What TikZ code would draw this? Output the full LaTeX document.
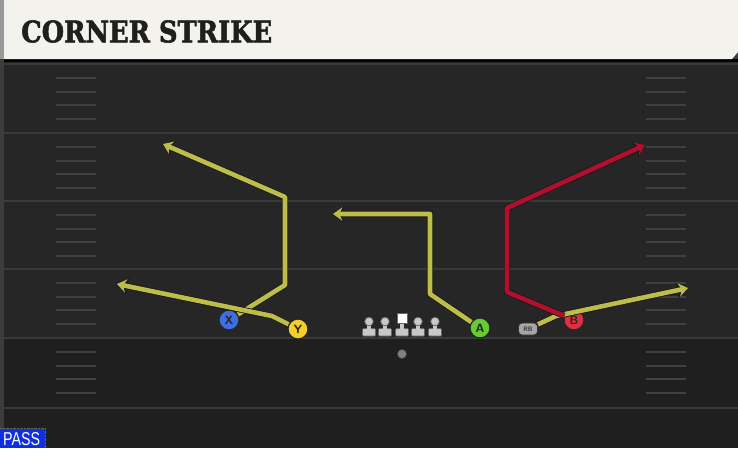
\documentclass[tikz,border=0pt]{standalone}
\usepackage{fontspec}
\usepackage{graphicx}
\newfontfamily\titlefont[FakeBold=2]{DejaVu Serif}
\newfontfamily\tagfont{Liberation Sans}
\usetikzlibrary{arrows.meta,positioning}

\definecolor{fieldbg}{HTML}{262626}
\definecolor{fieldlow}{HTML}{1F1F1F}
\definecolor{yardline}{HTML}{3A3A3A}
\definecolor{hashline}{HTML}{404040}
\definecolor{headbg}{HTML}{F4F2EC}
\definecolor{routeyel}{HTML}{BDBD4A}
\definecolor{routered}{HTML}{B0102E}
\definecolor{xblue}{HTML}{3D6FE0}
\definecolor{yyellow}{HTML}{F2CF2A}
\definecolor{agreen}{HTML}{66CC33}
\definecolor{bred}{HTML}{E0303F}
\definecolor{passblue}{HTML}{1030E0}
\definecolor{lineman}{HTML}{C8C8C8}

\tikzset{
	route/.style={
		line width=4.6pt,
		line join=round,
		-{Stealth[length=3pt 1.4, width=5pt 1.8, inset=1pt 0.5]},
		preaction={draw=black!90, line width=6.2pt}
	},
	player/.style={
		circle,
		draw=black!85,
		line width=1.2pt,
		minimum size=20pt,
		inner sep=0pt,
		text=black!85,
		font=\sffamily\bfseries\large
	}
}

\begin{document}
\begin{tikzpicture}[x=1pt, y=-1pt]
		\useasboundingbox (0,0) rectangle (738,448);
		
		% field
		\fill[fieldbg!90!white] (0,0) rectangle (738,448);
		\fill[fieldbg] (4,61) rectangle (738,338);
		\fill[fieldlow] (4,338) rectangle (738,448);
		
		\foreach \y in {64,133,201,269,338,408}
			\draw[yardline, line width=2.2pt] (4,\y) -- (738,\y);
		\foreach \y in {64,133,201,269,338}
			\foreach \k in {1,...,4} {
				\draw[hashline, line width=2pt] (56,\y+13.8*\k) -- (96,\y+13.8*\k);
				\draw[hashline, line width=2pt] (646,\y+13.8*\k) -- (686,\y+13.8*\k);
			}
		
		% header
		\fill[black!40] (0,0) rectangle (4,59);
		\fill[black] (4,59) rectangle (738,62);
		\fill[headbg] (4,0) -- (738,0) -- (738,52) -- (732,59) -- (4,59) -- cycle;
		\node (title) [anchor=west, inner sep=0pt, text=black!88] at (21,31.5)
			{\resizebox{251pt}{22pt}{\titlefont\bfseries CORNER STRIKE}};
		
		% line
		\foreach \x in {369,385,418,435} {
			\fill[lineman, draw=black!60, line width=0.7pt, rounded corners=1pt] (\x-6.5,328.5) rectangle (\x+6.5,336);
			\fill[lineman] (\x-2.2,322) rectangle (\x+2.2,330);
			\fill[lineman, draw=black!60, line width=0.7pt] (\x,321.5) circle (4.3);
		}
		\fill[lineman, draw=black!60, line width=0.7pt, rounded corners=1pt] (395.5,328.5) rectangle (408.5,336);
		\fill[lineman] (399.8,322) rectangle (404.2,330);
		\fill[white, draw=black!60, line width=0.7pt] (397,313.5) rectangle (407,323);
		\node (ball) [circle, fill=black!50, draw=black!70, minimum size=9pt, inner sep=0pt] at (402,354) {};
		
		% players
		\node (X) [player, fill=xblue] at (229,320) {X};
		\node (Y) [player, fill=yyellow] at (298,329) {Y};
		\node (A) [player, fill=agreen] at (480,328) {A};
		\node (B) [player, fill=bred] at (574,320) {B};
		\node (RB) [rounded corners=3.5pt, fill=black!35, draw=black!80, line width=0.9pt,
			minimum width=19pt, minimum height=12pt, inner sep=0pt,
			font=\sffamily\bfseries\fontsize{6.5}{6.5}\selectfont, text=black!80] at (528,329) {RB};
		
		% route points
		\coordinate (x1) at (285,285);
		\coordinate (x2) at (285,197);
		\coordinate (xend) at (163,144);
		\coordinate (y1) at (272,316);
		\coordinate (yend) at (117,284);
		\coordinate (a1) at (430,294);
		\coordinate (a2) at (430,214);
		\coordinate (aend) at (333,214);
		\coordinate (b1) at (507,292);
		\coordinate (b2) at (507,208);
		\coordinate (bend) at (645,145);
		\coordinate (r1) at (556,316);
		\coordinate (rend) at (688,288);
		
		% routes
		\draw[route, routeyel] (X) -- (x1) -- (x2) -- (xend);
		\draw[route, routeyel] (Y) -- (y1) -- (yend);
		\draw[route, routeyel] (A) -- (a1) -- (a2) -- (aend);
		\draw[route, routeyel] (RB) -- (r1) -- (rend);
		\draw[route, routered] (B) -- (b1) -- (b2) -- (bend);
		
		% tag
		\draw[black!60, densely dotted] (0,428) -- (45,428) -- (45,448);
		\fill[passblue] (0,429) rectangle (45,448);
		\node (pass) [anchor=west, inner sep=0pt, text=white] at (3,439)
			{\resizebox{37pt}{13pt}{\tagfont PASS}};
	\end{tikzpicture}
\end{document}
